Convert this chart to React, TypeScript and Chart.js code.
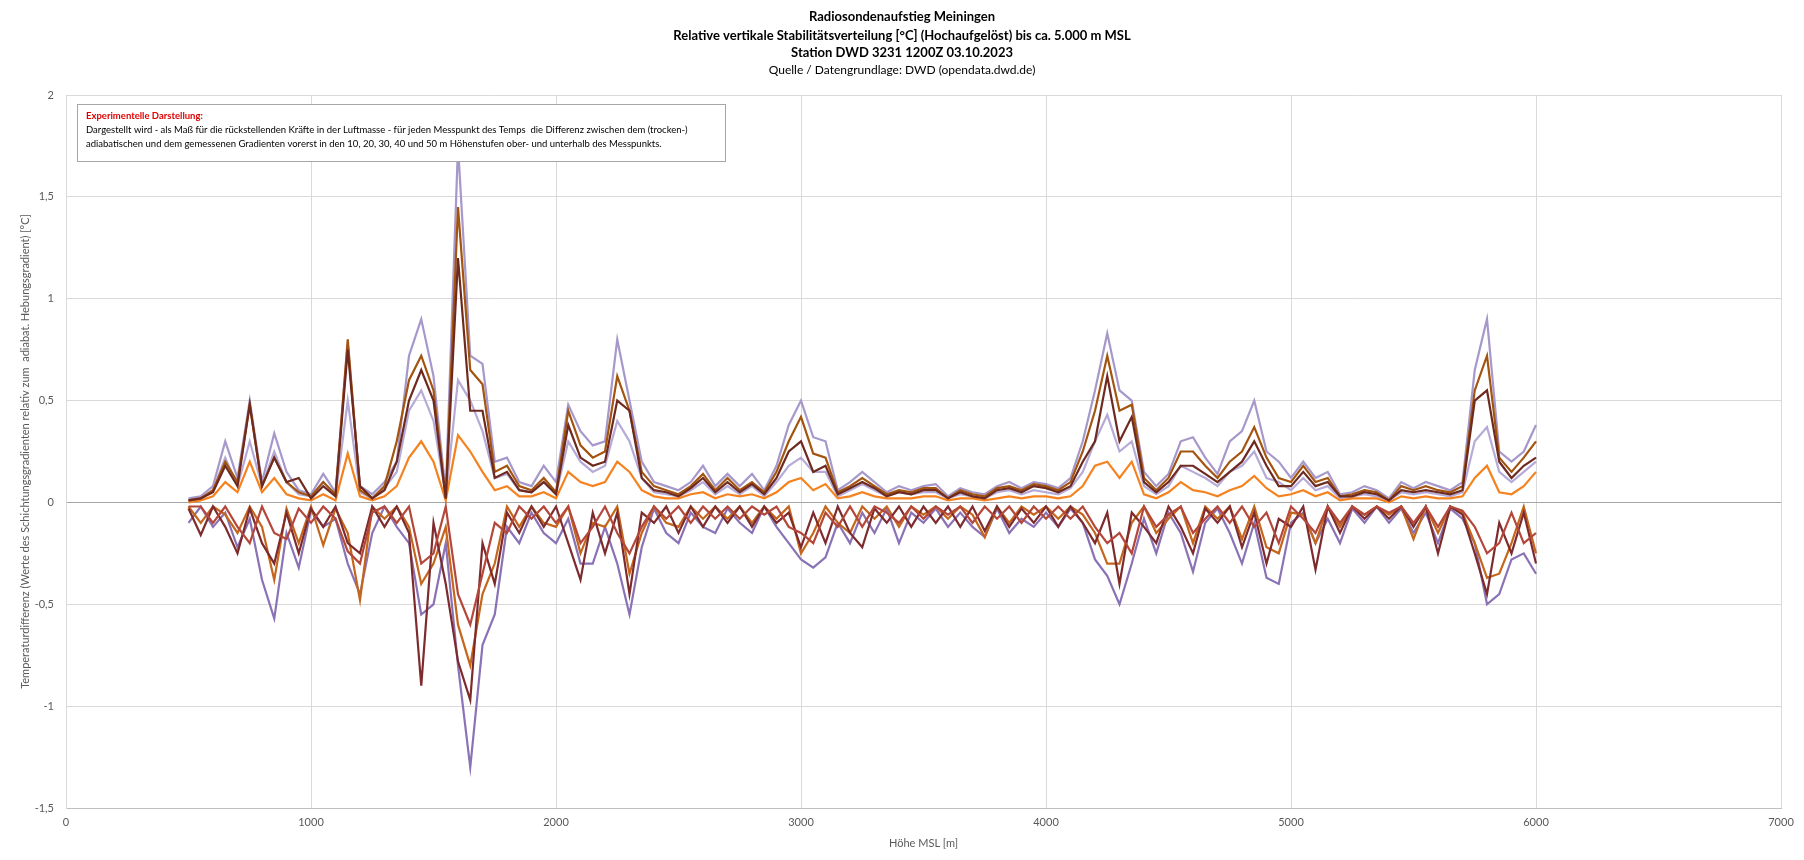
import { useEffect, useRef } from "react";
import { Chart, registerables } from "chart.js";

Chart.register(...registerables);

// Höhe MSL [m]
const heights = [
  500, 550, 600, 650, 700, 750, 800, 850, 900, 950,
  1000, 1050, 1100, 1150, 1200, 1250, 1300, 1350, 1400, 1450,
  1500, 1550, 1600, 1650, 1700, 1750, 1800, 1850, 1900, 1950,
  2000, 2050, 2100, 2150, 2200, 2250, 2300, 2350, 2400, 2450,
  2500, 2550, 2600, 2650, 2700, 2750, 2800, 2850, 2900, 2950,
  3000, 3050, 3100, 3150, 3200, 3250, 3300, 3350, 3400, 3450,
  3500, 3550, 3600, 3650, 3700, 3750, 3800, 3850, 3900, 3950,
  4000, 4050, 4100, 4150, 4200, 4250, 4300, 4350, 4400, 4450,
  4500, 4550, 4600, 4650, 4700, 4750, 4800, 4850, 4900, 4950,
  5000, 5050, 5100, 5150, 5200, 5250, 5300, 5350, 5400, 5450,
  5500, 5550, 5600, 5650, 5700, 5750, 5800, 5850, 5900, 5950,
  6000,
];

// above the point
const purpleUp = [
  0.02, 0.03, 0.08, 0.3, 0.12, 0.5, 0.1, 0.34, 0.15, 0.06,
  0.04, 0.14, 0.05, 0.78, 0.08, 0.04, 0.1, 0.2, 0.72, 0.9,
  0.62, 0.05, 1.75, 0.72, 0.68, 0.2, 0.22, 0.1, 0.08, 0.18,
  0.1, 0.48, 0.35, 0.28, 0.3, 0.8, 0.5, 0.2, 0.1, 0.08,
  0.06, 0.1, 0.18, 0.08, 0.14, 0.08, 0.14, 0.06, 0.18, 0.38,
  0.5, 0.32, 0.3, 0.06, 0.1, 0.15, 0.1, 0.05, 0.08, 0.06,
  0.08, 0.09, 0.03, 0.07, 0.05, 0.04, 0.08, 0.1, 0.07, 0.1,
  0.09, 0.07, 0.12, 0.3, 0.55, 0.83, 0.55, 0.5, 0.15, 0.08,
  0.14, 0.3, 0.32, 0.22, 0.14, 0.3, 0.35, 0.5, 0.25, 0.2,
  0.12, 0.2, 0.12, 0.15, 0.04, 0.05, 0.08, 0.06, 0.02, 0.1,
  0.07, 0.1, 0.08, 0.06, 0.1, 0.65, 0.9, 0.25, 0.2, 0.25,
  0.38,
];
const brownUp = [
  0.01, 0.02, 0.06, 0.2, 0.1, 0.48, 0.08, 0.22, 0.1, 0.05,
  0.03, 0.1, 0.04, 0.8, 0.06, 0.02, 0.08, 0.3, 0.6, 0.72,
  0.55, 0.02, 1.45, 0.65, 0.58, 0.15, 0.18, 0.08, 0.06, 0.12,
  0.05, 0.45, 0.28, 0.22, 0.25, 0.62, 0.45, 0.15, 0.08, 0.06,
  0.04, 0.08, 0.14, 0.06, 0.12, 0.06, 0.1, 0.05, 0.15, 0.3,
  0.42, 0.24, 0.22, 0.05, 0.08, 0.12, 0.08, 0.04, 0.06, 0.05,
  0.07, 0.07, 0.02, 0.06, 0.04, 0.03, 0.07, 0.08, 0.06, 0.09,
  0.08, 0.06, 0.1, 0.25, 0.45, 0.72, 0.45, 0.48, 0.12, 0.06,
  0.12, 0.25, 0.25, 0.18, 0.12, 0.2, 0.25, 0.37, 0.22, 0.12,
  0.1, 0.18, 0.1, 0.12, 0.03, 0.04, 0.06, 0.05, 0.01, 0.08,
  0.06, 0.08, 0.06, 0.05, 0.08, 0.55, 0.72, 0.22, 0.15, 0.22,
  0.3,
];
const maroonUp = [
  0.01, 0.02, 0.05, 0.18, 0.08, 0.48, 0.08, 0.22, 0.1, 0.12,
  0.02, 0.08, 0.03, 0.75, 0.08, 0.02, 0.06, 0.2, 0.5, 0.65,
  0.5, 0.02, 1.2, 0.45, 0.45, 0.12, 0.15, 0.06, 0.05, 0.1,
  0.04, 0.38, 0.22, 0.18, 0.2, 0.5, 0.45, 0.12, 0.06, 0.05,
  0.03, 0.07, 0.12, 0.05, 0.1, 0.05, 0.09, 0.04, 0.12, 0.25,
  0.3, 0.15, 0.18, 0.04, 0.07, 0.1, 0.07, 0.03, 0.05, 0.04,
  0.06, 0.06, 0.02, 0.05, 0.03, 0.02, 0.06, 0.07, 0.05, 0.08,
  0.07, 0.05, 0.08, 0.2, 0.3, 0.62, 0.3, 0.42, 0.1, 0.05,
  0.1, 0.18, 0.18, 0.14, 0.1, 0.15, 0.2, 0.3, 0.18, 0.08,
  0.08, 0.15, 0.08, 0.1, 0.03, 0.03, 0.05, 0.04, 0.01, 0.06,
  0.05, 0.06, 0.05, 0.04, 0.06, 0.5, 0.55, 0.2, 0.12, 0.18,
  0.22,
];
const lavenderUp = [
  0.01, 0.02, 0.06, 0.22, 0.08, 0.3, 0.08, 0.25, 0.1, 0.04,
  0.03, 0.1, 0.03, 0.5, 0.05, 0.02, 0.07, 0.15, 0.45, 0.55,
  0.4, 0.03, 0.6, 0.5, 0.35, 0.12, 0.14, 0.06, 0.05, 0.1,
  0.04, 0.3, 0.2, 0.15, 0.18, 0.4, 0.3, 0.12, 0.05, 0.04,
  0.03, 0.06, 0.1, 0.04, 0.08, 0.04, 0.08, 0.03, 0.1, 0.18,
  0.22, 0.15, 0.15, 0.03, 0.06, 0.09, 0.06, 0.03, 0.05, 0.04,
  0.05, 0.05, 0.02, 0.04, 0.03, 0.02, 0.05, 0.06, 0.04, 0.06,
  0.05, 0.04, 0.07, 0.15, 0.3, 0.43, 0.25, 0.3, 0.08, 0.04,
  0.08, 0.18, 0.15, 0.12, 0.08, 0.15, 0.18, 0.25, 0.12, 0.1,
  0.06, 0.12, 0.06, 0.08, 0.02, 0.03, 0.04, 0.03, 0.01, 0.05,
  0.04, 0.05, 0.04, 0.03, 0.05, 0.3, 0.37, 0.15, 0.1, 0.15,
  0.2,
];
const orangeUp = [
  0, 0.01, 0.03, 0.1, 0.05, 0.2, 0.05, 0.12, 0.04, 0.02,
  0.01, 0.04, 0.01, 0.24, 0.03, 0.01, 0.03, 0.08, 0.22, 0.3,
  0.2, 0.01, 0.33, 0.25, 0.15, 0.06, 0.08, 0.03, 0.03, 0.05,
  0.02, 0.15, 0.1, 0.08, 0.1, 0.2, 0.15, 0.06, 0.03, 0.02,
  0.02, 0.04, 0.05, 0.02, 0.04, 0.03, 0.04, 0.02, 0.05, 0.1,
  0.12, 0.06, 0.09, 0.02, 0.03, 0.05, 0.03, 0.02, 0.02, 0.02,
  0.03, 0.03, 0.01, 0.02, 0.02, 0.01, 0.02, 0.03, 0.02, 0.03,
  0.03, 0.02, 0.03, 0.08, 0.18, 0.2, 0.12, 0.2, 0.04, 0.02,
  0.05, 0.1, 0.06, 0.05, 0.03, 0.06, 0.08, 0.13, 0.07, 0.03,
  0.04, 0.06, 0.03, 0.05, 0.01, 0.02, 0.02, 0.02, 0, 0.03,
  0.02, 0.03, 0.02, 0.02, 0.03, 0.12, 0.18, 0.05, 0.04, 0.08,
  0.15,
];

// below the point
const purpleDown = [
  -0.1, -0.02, -0.12, -0.05, -0.22, -0.08, -0.38, -0.57, -0.15, -0.32,
  -0.04, -0.12, -0.08, -0.3, -0.45, -0.15, -0.02, -0.12, -0.2, -0.55,
  -0.5, -0.2, -0.8, -1.3, -0.7, -0.55, -0.12, -0.2, -0.05, -0.15,
  -0.2, -0.08, -0.3, -0.3, -0.12, -0.3, -0.55, -0.22, -0.03, -0.15,
  -0.2, -0.05, -0.12, -0.15, -0.03, -0.1, -0.15, -0.02, -0.12, -0.2,
  -0.28, -0.32, -0.27, -0.1, -0.2, -0.05, -0.15, -0.03, -0.2, -0.05,
  -0.1, -0.03, -0.12, -0.05, -0.12, -0.17, -0.03, -0.15, -0.08, -0.12,
  -0.05, -0.12, -0.03, -0.1, -0.28, -0.36, -0.5, -0.3, -0.08, -0.25,
  -0.05, -0.15, -0.34, -0.1, -0.03, -0.15, -0.3, -0.1, -0.37, -0.4,
  -0.1, -0.05, -0.2, -0.08, -0.2, -0.03, -0.1, -0.02, -0.1, -0.03,
  -0.15, -0.05, -0.2, -0.03, -0.08, -0.2, -0.5, -0.45, -0.28, -0.25,
  -0.35,
];
const darkRedDown = [
  -0.03, -0.16, -0.02, -0.12, -0.25, -0.03, -0.2, -0.3, -0.05, -0.25,
  -0.03, -0.12, -0.02, -0.2, -0.25, -0.02, -0.12, -0.02, -0.15, -0.9,
  -0.1, -0.4, -0.78, -0.97, -0.2, -0.4, -0.05, -0.15, -0.02, -0.12,
  -0.02, -0.2, -0.38, -0.05, -0.25, -0.05, -0.45, -0.05, -0.1, -0.02,
  -0.15, -0.02, -0.12, -0.02, -0.1, -0.02, -0.12, -0.02, -0.1, -0.05,
  -0.22, -0.05, -0.2, -0.02, -0.15, -0.22, -0.03, -0.1, -0.02, -0.12,
  -0.02, -0.1, -0.02, -0.12, -0.02, -0.14, -0.02, -0.12, -0.03, -0.1,
  -0.02, -0.12, -0.02, -0.1, -0.2, -0.05, -0.4, -0.05, -0.12, -0.2,
  -0.02, -0.12, -0.25, -0.03, -0.1, -0.02, -0.22, -0.05, -0.3, -0.08,
  -0.12, -0.02, -0.33, -0.02, -0.15, -0.02, -0.08, -0.02, -0.08, -0.02,
  -0.12, -0.02, -0.25, -0.02, -0.06, -0.25, -0.45, -0.1, -0.25, -0.05,
  -0.3,
];
const orangeDown = [
  -0.02, -0.1, -0.02, -0.06, -0.15, -0.02, -0.12, -0.38, -0.03, -0.2,
  -0.02, -0.21, -0.03, -0.15, -0.48, -0.02, -0.08, -0.02, -0.12, -0.4,
  -0.3, -0.12, -0.6, -0.8, -0.45, -0.3, -0.02, -0.12, -0.02, -0.1,
  -0.12, -0.02, -0.25, -0.1, -0.12, -0.02, -0.35, -0.15, -0.02, -0.1,
  -0.12, -0.02, -0.08, -0.02, -0.08, -0.02, -0.1, -0.02, -0.08, -0.02,
  -0.25, -0.15, -0.02, -0.1, -0.15, -0.02, -0.08, -0.02, -0.12, -0.02,
  -0.06, -0.02, -0.08, -0.02, -0.06, -0.17, -0.02, -0.1, -0.02, -0.06,
  -0.02, -0.08, -0.02, -0.06, -0.15, -0.3, -0.3, -0.1, -0.02, -0.15,
  -0.08, -0.02, -0.2, -0.02, -0.08, -0.02, -0.18, -0.02, -0.22, -0.25,
  -0.05, -0.06, -0.2, -0.02, -0.12, -0.02, -0.06, -0.02, -0.06, -0.02,
  -0.18, -0.02, -0.15, -0.02, -0.05, -0.2, -0.37, -0.35, -0.2, -0.02,
  -0.25,
];
const redDown = [
  -0.02, -0.02, -0.1, -0.02, -0.12, -0.2, -0.02, -0.15, -0.18, -0.03,
  -0.1, -0.02, -0.08, -0.24, -0.3, -0.05, -0.02, -0.1, -0.02, -0.3,
  -0.25, -0.02, -0.45, -0.6, -0.35, -0.1, -0.15, -0.02, -0.08, -0.02,
  -0.1, -0.02, -0.2, -0.12, -0.02, -0.15, -0.25, -0.12, -0.02, -0.08,
  -0.02, -0.1, -0.02, -0.08, -0.02, -0.08, -0.02, -0.06, -0.02, -0.12,
  -0.15, -0.2, -0.05, -0.12, -0.02, -0.12, -0.02, -0.05, -0.1, -0.02,
  -0.08, -0.02, -0.06, -0.02, -0.1, -0.02, -0.08, -0.02, -0.1, -0.02,
  -0.08, -0.02, -0.08, -0.02, -0.12, -0.2, -0.15, -0.25, -0.02, -0.12,
  -0.06, -0.02, -0.15, -0.08, -0.02, -0.1, -0.02, -0.12, -0.05, -0.2,
  -0.02, -0.08, -0.15, -0.02, -0.1, -0.02, -0.06, -0.02, -0.05, -0.02,
  -0.1, -0.02, -0.12, -0.02, -0.04, -0.12, -0.25, -0.2, -0.05, -0.2,
  -0.15,
];

const titleLines = [
  "Radiosondenaufstieg Meiningen",
  "Relative vertikale Stabilitätsverteilung [°C] (Hochaufgelöst) bis ca. 5.000 m MSL",
  "Station DWD 3231 1200Z 03.10.2023",
];
const sourceLine = "Quelle / Datengrundlage: DWD (opendata.dwd.de)";
const noteTitle = "Experimentelle Darstellung:";
const noteLines = [
  "Dargestellt wird - als Maß für die rückstellenden Kräfte in der Luftmasse - für jeden Messpunkt des Temps  die Differenz zwischen dem (trocken-)",
  "adiabatischen und dem gemessenen Gradienten vorerst in den 10, 20, 30, 40 und 50 m Höhenstufen ober- und unterhalb des Messpunkts.",
];
const xTitle = "Höhe MSL [m]";
const yTitle = "Temperaturdifferenz (Werte des Schichtungsgradienten relativ zum  adiabat. Hebungsgradient) [°C]";

const FONT = "Lato, 'Open Sans', sans-serif";

const textPlugin = {
  id: "texts",
  afterDraw(chart: Chart) {
    const ctx = chart.ctx;
    const area = chart.chartArea;
    ctx.save();
    ctx.textBaseline = "middle";
    ctx.textAlign = "center";
    ctx.fillStyle = "#000";
    ctx.font = `bold 13px ${FONT}`;
    ctx.fillText(titleLines[0], 902, 17);
    ctx.fillText(titleLines[1], 902, 36);
    ctx.fillText(titleLines[2], 902, 53);
    ctx.font = `12px ${FONT}`;
    ctx.fillText(sourceLine, 902, 70);

    // note box
    ctx.fillStyle = "#fff";
    ctx.fillRect(77, 104, 648, 57);
    ctx.strokeStyle = "#a6a6a6";
    ctx.lineWidth = 1;
    ctx.strokeRect(77.5, 104.5, 648, 57);
    ctx.textAlign = "left";
    ctx.fillStyle = "#e00000";
    ctx.font = `bold 9.5px ${FONT}`;
    ctx.fillText(noteTitle, 86, 116);
    ctx.fillStyle = "#000";
    ctx.font = `9.5px ${FONT}`;
    ctx.fillText(noteLines[0], 86, 130, 628);
    ctx.fillText(noteLines[1], 86, 144, 628);

    // axis titles
    ctx.fillStyle = "#595959";
    ctx.font = `11px ${FONT}`;
    ctx.textAlign = "center";
    ctx.fillText(xTitle, (area.left + area.right) / 2, 843);
    ctx.translate(25, (area.top + area.bottom) / 2);
    ctx.rotate(-Math.PI / 2);
    ctx.fillText(yTitle, 0, 0);
    ctx.restore();
  },
};

export default function App() {
  const canvasRef = useRef<HTMLCanvasElement>(null);
  const chartRef = useRef<Chart | null>(null);

  useEffect(() => {
    if (!canvasRef.current) return;
    if (chartRef.current) chartRef.current.destroy();

    const series = (values: number[]) => heights.map((h, i) => ({ x: h, y: values[i] }));
    const line = (values: number[], color: string) => ({
      data: series(values),
      borderColor: color,
      backgroundColor: color,
      borderWidth: 2.2,
      pointRadius: 0,
      tension: 0,
      fill: false,
    });

    // first dataset is drawn on top
    chartRef.current = new Chart(canvasRef.current, {
      type: "line",
      data: {
        datasets: [
          line(redDown, "#b4473a"),
          line(maroonUp, "#6e2a1f"),
          line(brownUp, "#a3540f"),
          line(darkRedDown, "#7e2b2e"),
          line(orangeDown, "#c4661c"),
          line(orangeUp, "#f5821f"),
          line(lavenderUp, "#b6abd8"),
          line(purpleUp, "#a698ca"),
          line(purpleDown, "#8a72b6"),
        ],
      },
      options: {
        responsive: false,
        animation: false,
        layout: { padding: { top: 95, right: 23, left: 0, bottom: 0 } },
        plugins: {
          legend: { display: false },
          tooltip: { enabled: false },
          title: { display: false },
        },
        scales: {
          x: {
            type: "linear",
            min: 0,
            max: 7000,
            ticks: {
              stepSize: 1000,
              color: "#595959",
              font: { family: FONT, size: 11 },
              padding: 8,
              callback: (v: any) => String(v),
            },
            grid: { color: "#d9d9d9", drawTicks: false },
            border: { color: "#bfbfbf" },
            afterFit: (scale: any) => {
              scale.height = 52;
            },
          },
          y: {
            min: -1.5,
            max: 2,
            ticks: {
              stepSize: 0.5,
              color: "#595959",
              font: { family: FONT, size: 11 },
              padding: 12,
              callback: (v: any) => String(v).replace(".", ","),
            },
            grid: {
              color: (c: any) => (c.tick && c.tick.value === 0 ? "#a6a6a6" : "#d9d9d9"),
              drawTicks: false,
            },
            border: { color: "#d9d9d9" },
            afterFit: (scale: any) => {
              scale.width = 66;
            },
          },
        },
      },
      plugins: [textPlugin],
    });

    return () => {
      if (chartRef.current) {
        chartRef.current.destroy();
        chartRef.current = null;
      }
    };
  }, []);

  return (
    <div style={{ position: "fixed", left: 0, top: 0, width: 1804, height: 860, background: "#fff" }}>
      <canvas ref={canvasRef} width={1804} height={860} />
    </div>
  );
}
